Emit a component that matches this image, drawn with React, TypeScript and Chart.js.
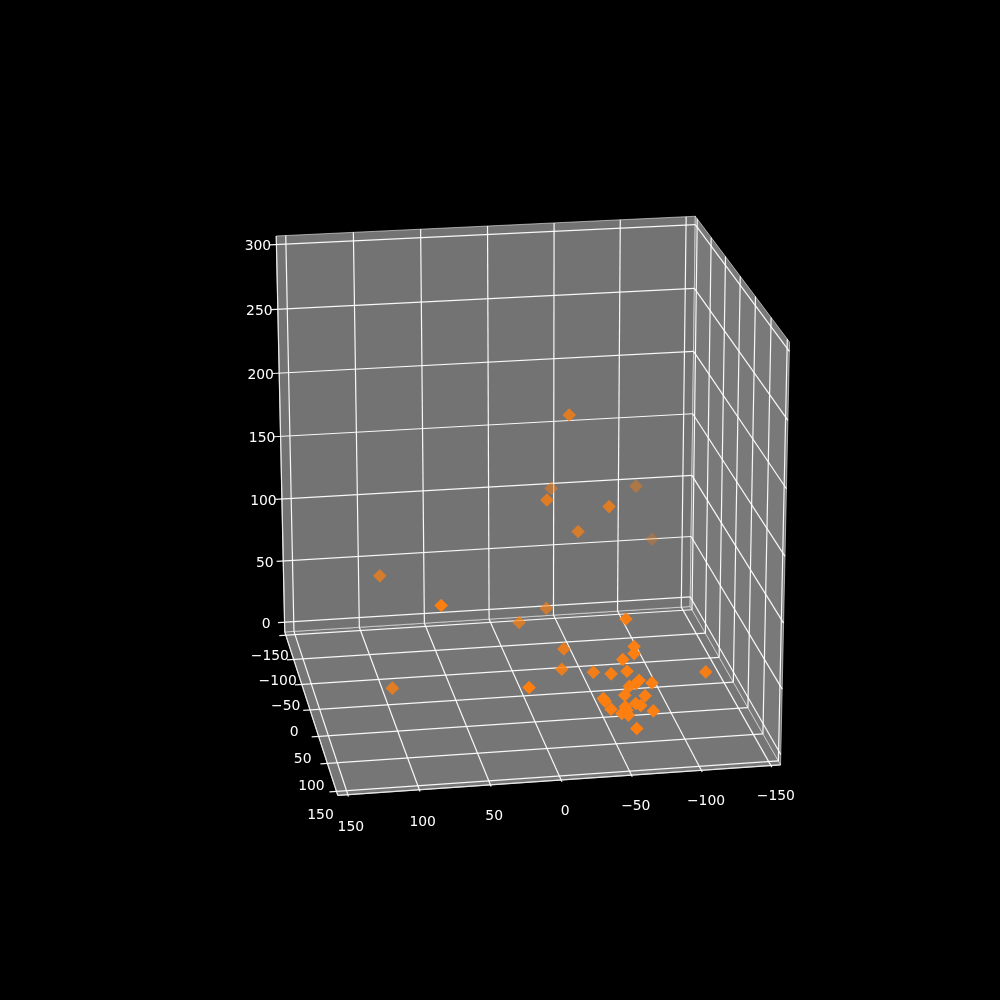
import React, { useEffect, useRef } from "react";
import { Chart, registerables } from "chart.js";
Chart.register(...registerables);

// Data (3D scatter values)
const xValues = [-61.7,-61.4,-53.3,-36.5,-45.8,-57.0,-72.5,-63.8,-61.5,-56.8,-53.2,-67.3,-38.2,-39.3,-43.1,-60.5,-63.9,-72.4,-53.1,-50.4,-54.9,-54.0,-58.3,-113.7,-37.3,-37.1,-17.9,-104.2,-61.7,-43.3,-121.3,100.4,71.9,-21.2,2.8,-21.3,-17.3,100.5,14.5,-59.6];
const yValues = [103.4,105.1,105.1,82.4,100.8,102.2,114.5,112.2,112.6,112.4,113.9,116.7,111.9,112.8,115.5,117.4,118.5,121.4,116.8,117.9,119.2,117.8,132.8,103.3,-21.6,-95.0,-3.6,-109.3,6.2,-17.1,-131.4,-32.6,78.0,-24.3,-2.4,47.8,61.9,28.5,109.1,83.2];
const zValues = [67.7,63.0,59.0,41.4,46.8,48.6,43.5,45.2,43.0,41.2,35.2,34.8,32.9,31.1,25.8,29.7,28.4,24.8,27.4,23.0,21.9,25.2,17.0,44.6,201.1,118.6,143.1,111.1,138.8,112.2,59.3,80.9,98.1,50.5,49.4,46.7,36.8,16.8,43.9,81.1];
const xTicks = [150,100,50,0,-50,-100,-150];
const yTicks = [-150,-100,-50,0,50,100,150];
const zTicks = [0,50,100,150,200,250,300];
const xLo=-157,xHi=157,yLo=-157,yHi=157,zLo=-8,zHi=306.6;

// Camera: projective matrix fitted to where the box corners fall in the picture
const calib:[number,number,number,number,number][]=[
[xHi,yLo,zHi,276.5,236],[xLo,yLo,zHi,694.7,215.7],[xLo,yHi,zHi,790,342.7],
[xLo,yHi,zLo,780.7,764],[xLo,yLo,zLo,690.3,607.3],[xHi,yLo,zLo,285,631.7],[xHi,yHi,zLo,337.3,795.7]];
function solve(A:number[][],b:number[]){const n=b.length;const M=A.map((r,i)=>[...r,b[i]]);
for(let i=0;i<n;i++){let p=i;for(let k=i;k<n;k++)if(Math.abs(M[k][i])>Math.abs(M[p][i]))p=k;[M[i],M[p]]=[M[p],M[i]];
for(let k=0;k<n;k++){if(k===i)continue;const f=M[k][i]/M[i][i];for(let j=i;j<=n;j++)M[k][j]-=f*M[i][j];}}
return M.map((r,i)=>r[n]/r[i]);}
function fit(){const rows:number[][]=[],rhs:number[]=[];
for(const [x,y,z,u,v] of calib){rows.push([x,y,z,1,0,0,0,0,-u*x,-u*y,-u*z]);rhs.push(u);rows.push([0,0,0,0,x,y,z,1,-v*x,-v*y,-v*z]);rhs.push(v);}
const N=Array.from({length:11},(_,i)=>Array.from({length:11},(_,j)=>rows.reduce((s,r)=>s+r[i]*r[j],0)));
const B=Array.from({length:11},(_,i)=>rows.reduce((s,r,k)=>s+r[i]*rhs[k],0));
return solve(N,B);}
const P=fit();
const depth=(x:number,y:number,z:number)=>P[8]*x+P[9]*y+P[10]*z+1;
const proj=(x:number,y:number,z:number)=>{const w=depth(x,y,z);return {x:(P[0]*x+P[1]*y+P[2]*z+P[3])/w,y:(P[4]*x+P[5]*y+P[6]*z+P[7])/w};};

type V=[number,number,number];
const seg=(a:V,b:V)=>[proj(...a),proj(...b)];
const line=(pts:{x:number,y:number}[],c:string,w=1.2,order=2)=>({data:pts,showLine:true,pointRadius:0,borderColor:c,borderWidth:w,order,fill:false});
const pane=(cs:V[],col:string)=>({data:cs.concat([cs[0]]).map(c=>proj(...c)),showLine:true,pointRadius:0,borderColor:"rgba(255,255,255,0.55)",borderWidth:1,backgroundColor:col,fill:"shape",order:3});
const GRID="rgba(255,255,255,0.95)";
const frame:any[]=[
 pane([[xLo,yLo,zLo],[xLo,yHi,zLo],[xLo,yHi,zHi],[xLo,yLo,zHi]],"rgb(121,121,121)"),
 pane([[xHi,yLo,zLo],[xLo,yLo,zLo],[xLo,yLo,zHi],[xHi,yLo,zHi]],"rgb(115,115,115)"),
 pane([[xHi,yLo,zLo],[xLo,yLo,zLo],[xLo,yHi,zLo],[xHi,yHi,zLo]],"rgb(118,118,118)"),
];
for(const t of xTicks){frame.push(line(seg([t,yLo,zHi],[t,yLo,zLo]),GRID));frame.push(line(seg([t,yLo,zLo],[t,yHi+3,zLo]),GRID));}
for(const t of yTicks){frame.push(line(seg([xLo,t,zHi],[xLo,t,zLo]),GRID));frame.push(line(seg([xLo,t,zLo],[xHi+5,t,zLo]),GRID));}
for(const t of zTicks){frame.push(line(seg([xLo,yHi,t],[xLo,yLo,t]),GRID));frame.push(line(seg([xLo,yLo,t],[xHi+5,yLo,t]),GRID));}
frame.push(line(seg([xLo,yHi,zLo],[xHi,yHi,zLo]),"#e8e8e8"));
frame.push(line(seg([xHi,yLo,zLo],[xHi,yHi,zLo]),"#e8e8e8"));
frame.push(line(seg([xHi,yLo,zLo],[xHi,yLo,zHi]),"#e8e8e8"));

// Depth shading: nearest point opaque, farthest at 0.3
const ds=xValues.map((_,i)=>depth(xValues[i],yValues[i],zValues[i]));
const dMin=Math.min(...ds),dMax=Math.max(...ds);
const colors=ds.map(d=>`rgba(255,127,14,${1-.7*(d-dMin)/(dMax-dMin)})`);
const labelFont="13.9px 'DejaVu Sans'";
const fmt=(n:number)=>String(n).replace("-","\u2212");

export default function App(){
  const ref=useRef<HTMLCanvasElement>(null);
  useEffect(()=>{
    const ch=new Chart(ref.current!,{
      type:"scatter",
      data:{datasets:[{data:xValues.map((_,i)=>proj(xValues[i],yValues[i],zValues[i])),pointStyle:"rectRot",pointRadius:6.8,pointBorderWidth:0,pointBackgroundColor:colors,order:1} as any,...frame]},
      options:{animation:false,responsive:false,plugins:{legend:{display:false},tooltip:{enabled:false}},layout:{padding:0,autoPadding:false},
        scales:{x:{display:false,min:0,max:1000},y:{display:false,min:0,max:1000,reverse:true}}},
      plugins:[{id:"t",
        beforeDraw(c:any){c.ctx.fillStyle="#000";c.ctx.fillRect(0,0,1000,1000);},
        afterDraw(c:any){const g=c.ctx;g.save();g.fillStyle="#fff";g.font=labelFont;g.textAlign="center";g.textBaseline="middle";
          const X=c.scales.x,Y=c.scales.y;
          const put=(s:string,p:{x:number,y:number},dx:number,dy:number)=>g.fillText(s,X.getPixelForValue(p.x)+dx,Y.getPixelForValue(p.y)+dy);
          for(const t of xTicks)put(fmt(t),proj(t,yHi,zLo),4-t/150,31.5+t/150);
          for(const t of yTicks)put(fmt(t),proj(xHi,t,zLo),-16,22.5+t/150);
          for(const t of zTicks)put(fmt(t),proj(xHi,yLo,t),-18.5,2.2);
          g.restore();}
      }]});
    return()=>ch.destroy();
  },[]);
  return <canvas ref={ref} width={1000} height={1000} style={{position:"fixed",left:0,top:0,width:1000,height:1000}}/>;
}
